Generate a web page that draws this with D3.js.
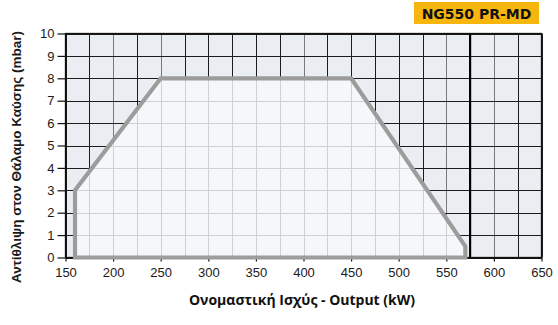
<!DOCTYPE html>
<html>
<head>
<meta charset="utf-8">
<script src="https://cdn.jsdelivr.net/npm/d3@7"></script>
<style>
  html, body { margin: 0; padding: 0; background: #fff; }
  svg { display: block; }
</style>
</head>
<body>
<script>
// Working field of the burner: output (kW) vs combustion chamber back-pressure (mbar)
const fieldOutput   = [160, 160, 250, 450, 570, 570];
const fieldPressure = [0,   3,   8,   8,   0.5, 0];
const maxOutput = 575;

const xTicks = [150, 200, 250, 300, 350, 400, 450, 500, 550, 600, 650];
const yTicks = [0, 1, 2, 3, 4, 5, 6, 7, 8, 9, 10];
const xGrid = d3.range(150, 651, 25);
const yGrid = d3.range(0, 11, 1);

const title = "NG550 PR-MD";
const xTitle = "Ονομαστική Ισχύς - Output (kW)";
const yTitle = "Αντίθλιψη στον Θάλαμο Καύσης (mbar)";

const W = 558, H = 325;
const svg = d3.select("body").append("svg").attr("width", W).attr("height", H);

const x = d3.scaleLinear().domain([150, 650]).range([65.5, 541.5]);
const y = d3.scaleLinear().domain([0, 10]).range([257.5, 33.5]);

const pts = fieldOutput.map((v, i) => [x(v), y(fieldPressure[i])]);

// plot background outside the working field
svg.append("rect")
  .attr("x", x(150)).attr("y", y(10))
  .attr("width", x(650) - x(150)).attr("height", y(0) - y(10))
  .attr("fill", "#eaedf1");

// dark grid
const darkGrid = svg.append("g").attr("stroke", "#1c1c1c").attr("stroke-width", 1);
darkGrid.selectAll("line.v").data(xGrid).join("line")
  .attr("x1", d => Math.round(x(d)) + 0.5).attr("x2", d => Math.round(x(d)) + 0.5)
  .attr("y1", y(10)).attr("y2", y(0))
  .attr("stroke", d => [200, 250, 400, 550, 600].includes(d) ? "#7a7a7a" : "#1c1c1c");
darkGrid.selectAll("line.h").data(yGrid).join("line")
  .attr("y1", d => Math.round(y(d)) + 0.5).attr("y2", d => Math.round(y(d)) + 0.5)
  .attr("x1", x(150)).attr("x2", x(650));

// working field
const area = d3.line();
svg.append("clipPath").attr("id", "field")
  .append("path").attr("d", area(pts) + "Z");
svg.append("path").attr("d", area(pts) + "Z").attr("fill", "#f6f7f9");

// light grid inside the field
const lightGrid = svg.append("g").attr("clip-path", "url(#field)")
  .attr("stroke", "#cfd1d4").attr("stroke-width", 1);
lightGrid.selectAll("line.v").data(xGrid).join("line")
  .attr("x1", d => Math.round(x(d)) + 0.5).attr("x2", d => Math.round(x(d)) + 0.5)
  .attr("y1", y(10)).attr("y2", y(0));
lightGrid.selectAll("line.h").data(yGrid).join("line")
  .attr("y1", d => Math.round(y(d)) + 0.5).attr("y2", d => Math.round(y(d)) + 0.5)
  .attr("x1", x(150)).attr("x2", x(650));

// maximum output line
svg.append("line")
  .attr("x1", x(maxOutput)).attr("x2", x(maxOutput))
  .attr("y1", y(10)).attr("y2", y(0))
  .attr("stroke", "#000").attr("stroke-width", 2.2);

// frame
svg.append("rect")
  .attr("x", x(150)).attr("y", y(10))
  .attr("width", x(650) - x(150)).attr("height", y(0) - y(10))
  .attr("fill", "none").attr("stroke", "#111").attr("stroke-width", 1.3);

// axes
const xAxis = svg.append("g").attr("transform", `translate(0,${y(0)})`)
  .call(d3.axisBottom(x).tickValues(xTicks).tickSize(4).tickPadding(6).tickSizeOuter(0));
const yAxis = svg.append("g").attr("transform", `translate(${x(150)},0)`)
  .call(d3.axisLeft(y).tickValues(yTicks).tickSize(8).tickPadding(3).tickSizeOuter(0));
[xAxis, yAxis].forEach(g => {
  g.select(".domain").attr("stroke", "#111").attr("stroke-width", 1.3);
  g.selectAll(".tick line").attr("stroke", "#111").attr("stroke-width", 1.2);
  g.selectAll("text").attr("fill", "#1a1a1a")
    .style("font-family", "'Liberation Sans', Arial, sans-serif").style("font-size", "13px");
});

// outline of the field, on top of the axis line
svg.append("path").attr("d", area(pts) + "Z")
  .attr("fill", "none").attr("stroke", "#9c9c9c").attr("stroke-width", 4.2)
  .attr("stroke-linejoin", "miter");

// axis titles
svg.append("text")
  .attr("x", 302).attr("y", 305)
  .attr("text-anchor", "middle")
  .style("font-family", "'Open Sans', sans-serif").style("font-weight", "bold").style("font-size", "14px")
  .attr("fill", "#111").text(xTitle);
svg.append("text")
  .attr("transform", `translate(21,${157}) rotate(-90)`)
  .attr("text-anchor", "middle")
  .style("font-family", "'Liberation Sans', Arial, sans-serif").style("font-weight", "bold").style("font-size", "13.5px")
  .attr("fill", "#1a1a1a").text(yTitle);

// model badge
svg.append("rect").attr("x", 414).attr("y", 2).attr("width", 125).attr("height", 22).attr("fill", "#f6b60e");
svg.append("text")
  .attr("x", 476.5).attr("y", 18.5).attr("text-anchor", "middle")
  .style("font-family", "'DejaVu Sans', sans-serif").style("font-weight", "bold").style("font-size", "14px")
  .attr("fill", "#111").text(title);
</script>
</body>
</html>
